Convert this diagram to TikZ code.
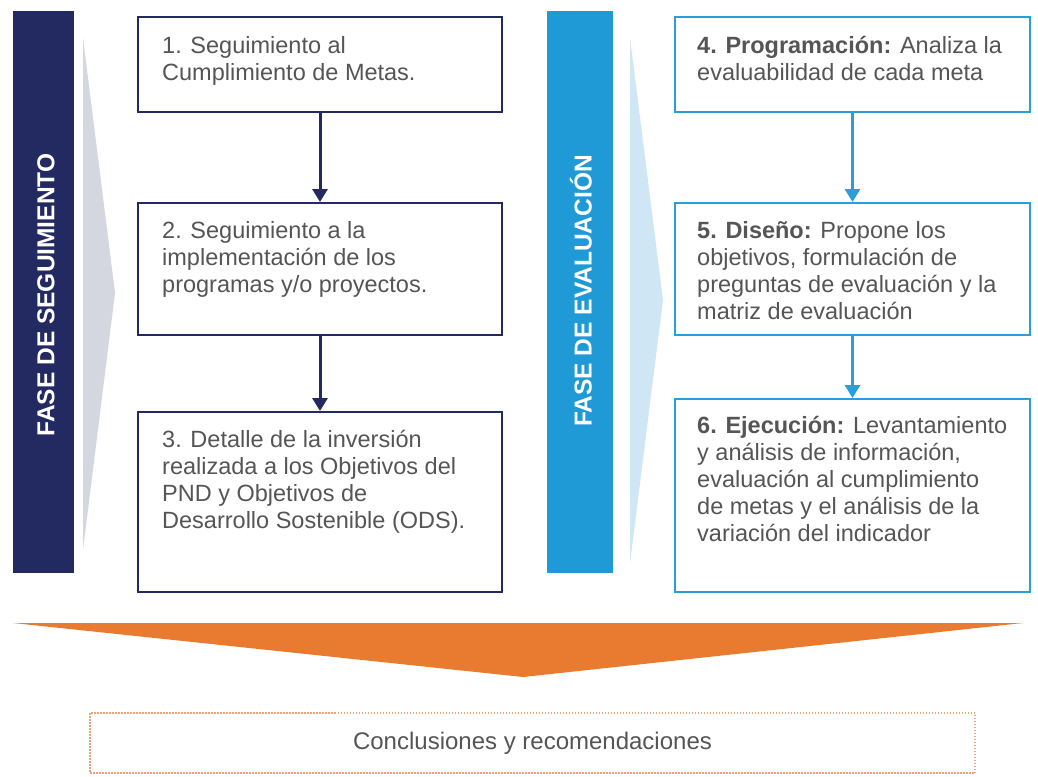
\documentclass[tikz,border=0pt]{standalone}
\usepackage{fontspec}
\setmainfont{Liberation Sans}
\usetikzlibrary{arrows.meta}
\definecolor{navy}{HTML}{232A62}
\definecolor{cblue}{HTML}{1F9AD6}
\definecolor{bblue}{HTML}{2A9ED8}
\definecolor{chgrey}{HTML}{D4D7DF}
\definecolor{chblue}{HTML}{CFE7F5}
\definecolor{corange}{HTML}{E87B2F}
\definecolor{txtgrey}{HTML}{555555}
\definecolor{dotorange}{HTML}{E9A57A}
\newcommand{\boxlines}[1]{\begin{tabular}[t]{@{}l@{}}#1\end{tabular}}
\tikzset{
  lbox/.style={draw=navy, line width=2.8pt, fill=white, minimum width=364pt, anchor=north west, inner sep=0pt, outer sep=0pt},
  rbox/.style={draw=bblue, line width=2.8pt, fill=white, minimum width=355pt, anchor=north west, inner sep=0pt, outer sep=0pt},
  btxt/.style={anchor=base west, inner sep=0pt, text=txtgrey, font=\fontsize{23.5}{27}\selectfont},
  larrow/.style={draw=navy, line width=3pt, -{Triangle[length=13pt,width=15pt]}, shorten >=1pt},
  rarrow/.style={draw=bblue, line width=3pt, -{Triangle[length=13pt,width=15pt]}, shorten >=1pt},
  phase/.style={rotate=90, text=white, inner sep=0pt, font=\bfseries\fontsize{24.5}{29}\selectfont},
}
\begin{document}
\begin{tikzpicture}[x=1pt,y=-1pt]
\useasboundingbox[fill=white] (0,0) rectangle (1038,776);

% phase bars
\fill[navy] (13,11) rectangle (74,573);
\fill[cblue] (547,11) rectangle (613,573);
\node[phase] (fs) at (46,295) {FASE DE SEGUIMIENTO};
\node[phase] (fe) at (581,291) {FASE DE EVALUACIÓN};

% chevrons
\fill[chgrey] (83,38) -- (115,293) -- (83,550) -- cycle;
\fill[chblue] (630,38) -- (663,300) -- (630,563) -- cycle;

% left boxes
\node[lbox, minimum height=95pt] (b1) at (138,17) {};
\node[lbox, minimum height=132pt] (b2) at (138,203) {};
\node[lbox, minimum height=180pt] (b3) at (138,412) {};
\node[btxt] (t1) at (162,53) {\boxlines{1. Seguimiento al\\Cumplimiento de Metas.}};
\node[btxt] (t2) at (162,238) {\boxlines{2. Seguimiento a la\\implementación de los\\programas y/o proyectos.}};
\node[btxt] (t3) at (162,447) {\boxlines{3. Detalle de la inversión\\realizada a los Objetivos del\\PND y Objetivos de\\Desarrollo Sostenible (ODS).}};
\draw[larrow] (b1.south) -- (b2.north);
\draw[larrow] (b2.south) -- (b3.north);

% right boxes
\node[rbox, minimum height=95pt] (b4) at (675,17) {};
\node[rbox, minimum height=132pt] (b5) at (675,203) {};
\node[rbox, minimum height=193pt] (b6) at (675,399) {};
\node[btxt] (t4) at (697,53) {\boxlines{\textbf{4. Programación:} Analiza la\\evaluabilidad de cada meta}};
\node[btxt] (t5) at (697,238) {\boxlines{\textbf{5. Diseño:} Propone los\\objetivos, formulación de\\preguntas de evaluación y la\\matriz de evaluación}};
\node[btxt] (t6) at (697,433) {\boxlines{\textbf{6. Ejecución:} Levantamiento\\y análisis de información,\\evaluación al cumplimiento\\de metas y el análisis de la\\variación del indicador}};
\draw[rarrow] (b4.south) -- (b5.north);
\draw[rarrow] (b5.south) -- (b6.north);

% orange chevron
\fill[corange] (13,623) -- (1023,623) -- (523,677) -- cycle;

% conclusions
\node[draw=dotorange, line width=1.5pt, dash pattern=on 1.5pt off 1.5pt, minimum width=885pt, minimum height=60pt, inner sep=0pt, text=txtgrey, font=\fontsize{24}{28}\selectfont] (concl) at (532.5,743) {Conclusiones y recomendaciones};
\end{tikzpicture}
\end{document}
